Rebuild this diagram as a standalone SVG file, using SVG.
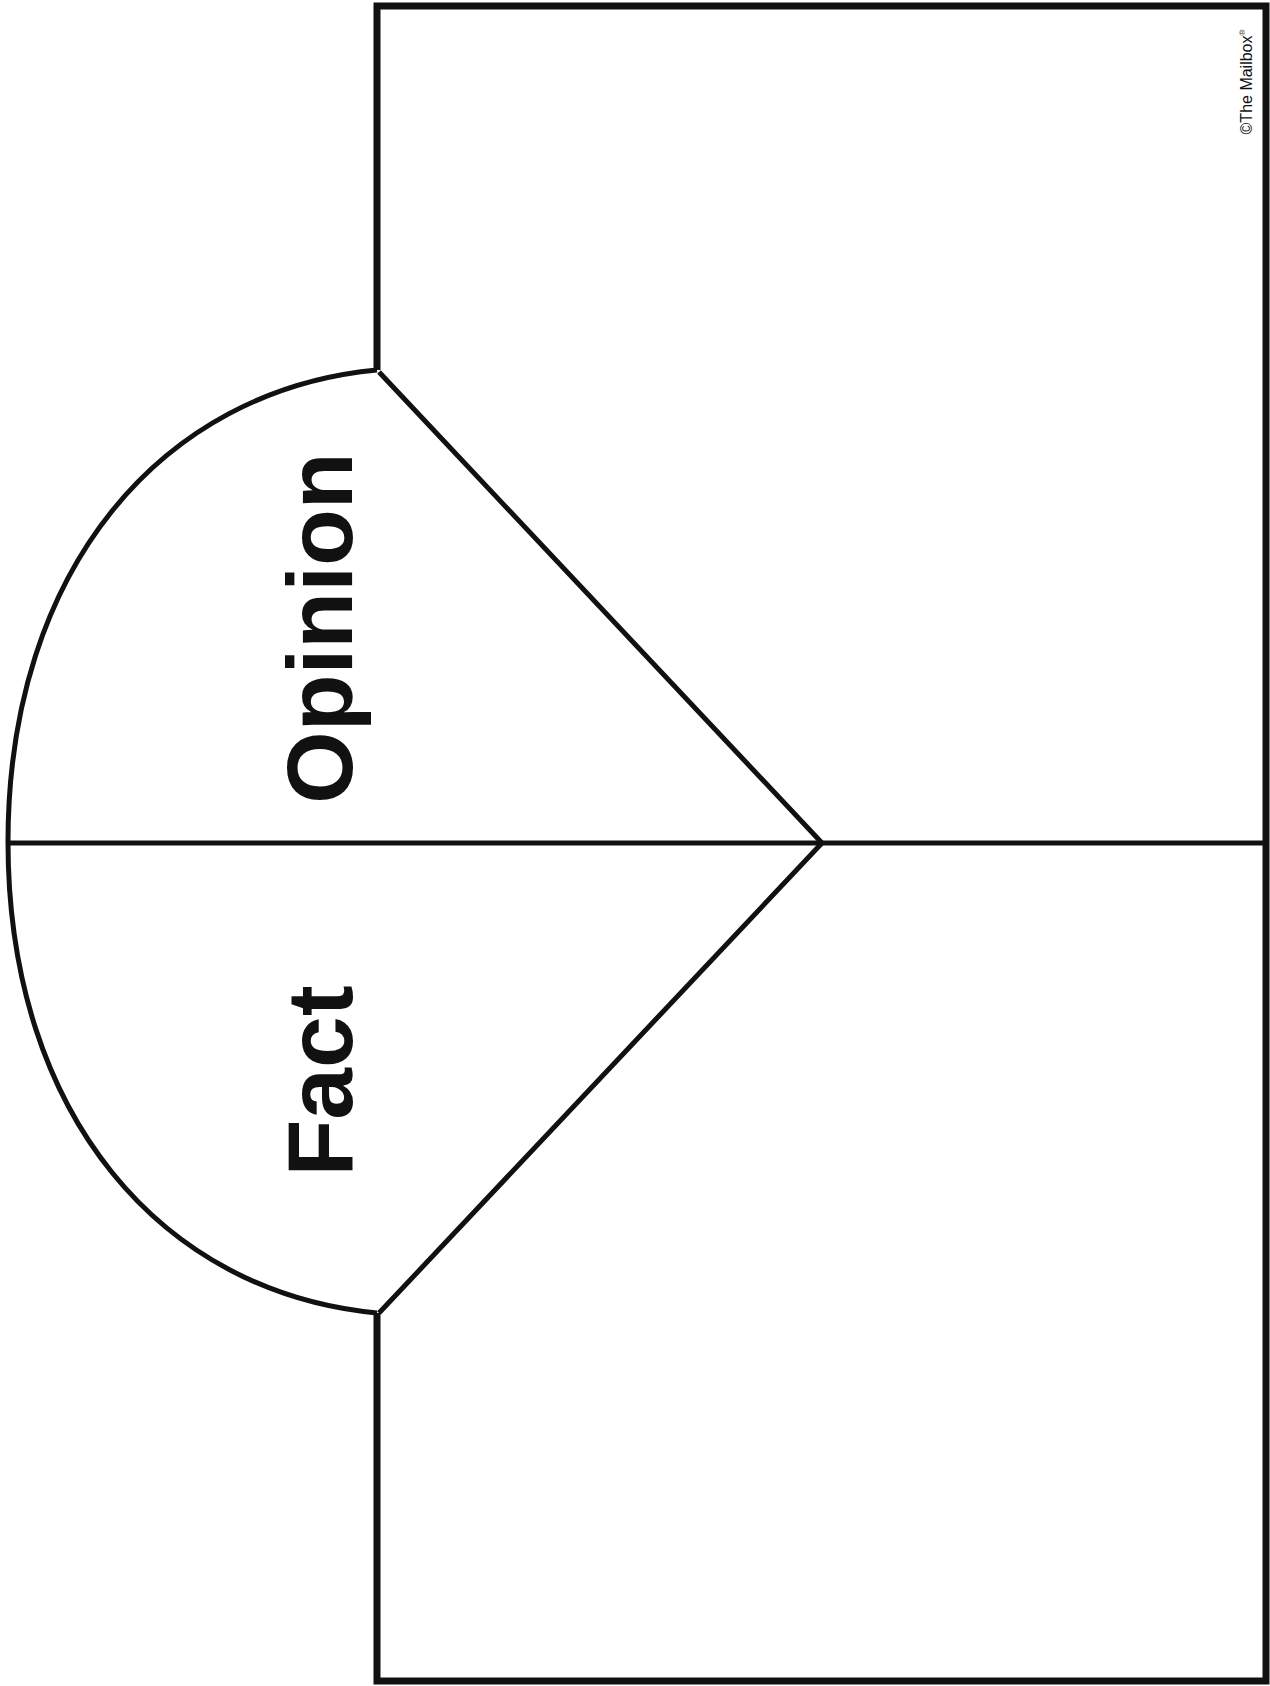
<svg xmlns="http://www.w3.org/2000/svg" width="1270" height="1686" viewBox="0 0 1270 1686">
<style>
.ln{fill:none;stroke:#111;stroke-linecap:butt;stroke-linejoin:miter}
.lbl{font-family:"Liberation Sans",Arial,sans-serif;font-weight:bold;font-size:93px;fill:#111}
.cr{font-family:"Liberation Sans",Arial,sans-serif;font-size:16px;fill:#111}
</style>
<rect width="1270" height="1686" fill="#fff"/>
<g id="connectors">
<path class="ln" d="M377,370 V6 H1266 V1681 H377 V1313" stroke-width="7"/>
<path class="ln" d="M377,370 C163,390 8,568 8,842 C8,1116 163,1293 377,1313" stroke-width="5"/>
<path class="ln" d="M379,372 L822,843 L379,1313" stroke-width="5"/>
<path class="ln" d="M8,843 H1266" stroke-width="5"/>
</g>
<g id="opinion">
<text class="lbl" transform="translate(352,628) rotate(-90)" text-anchor="middle">Opinion</text>
</g>
<g id="fact">
<text class="lbl" transform="translate(352,1081) rotate(-90)" text-anchor="middle">Fact</text>
</g>
<g id="copyright">
<text class="cr" transform="translate(1252,82) rotate(-90)" text-anchor="middle">©The Mailbox<tspan font-size="8" dy="-7">®</tspan></text>
</g>
</svg>
